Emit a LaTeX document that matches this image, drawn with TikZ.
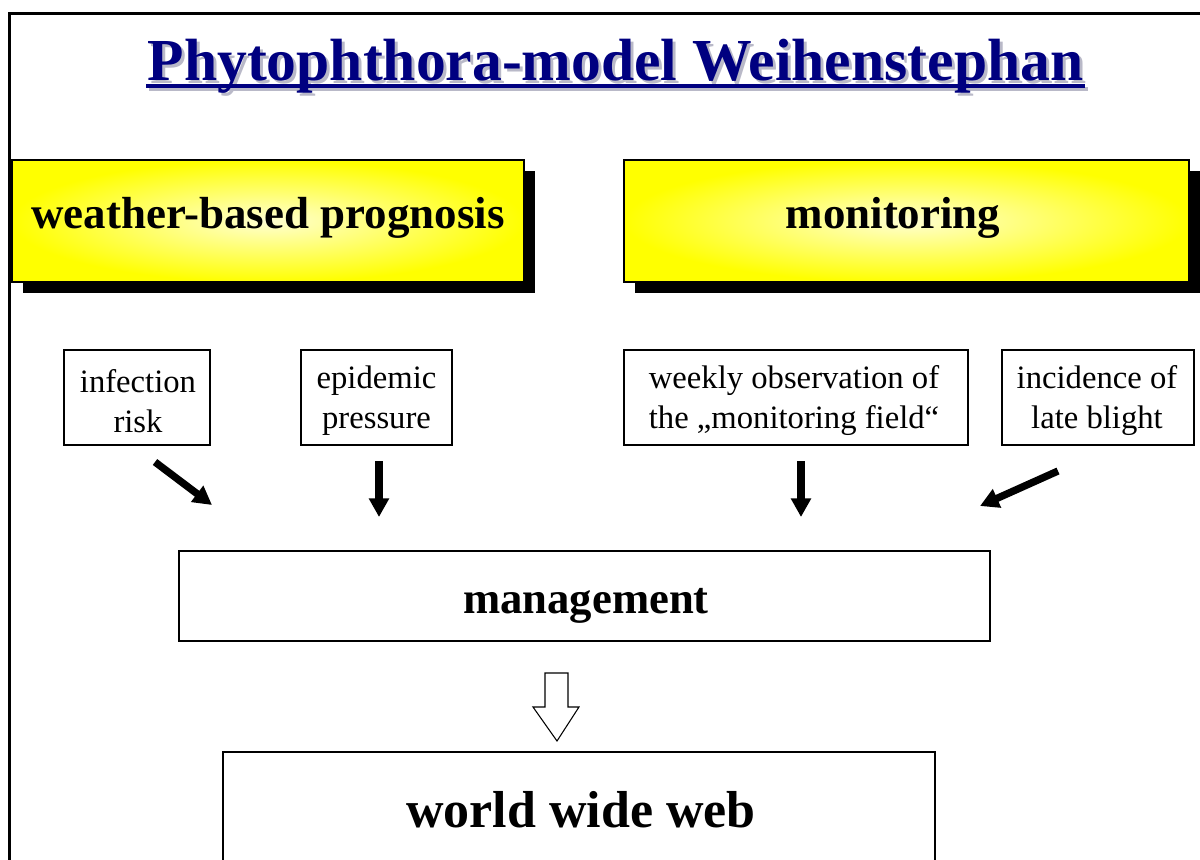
\documentclass[tikz,border=0pt]{standalone}
\usepackage{fontspec}
\setmainfont{Liberation Serif}
\usetikzlibrary{arrows.meta}
\definecolor{navy}{RGB}{0,0,128}
\definecolor{ttlshadow}{RGB}{185,185,200}
\definecolor{ylw}{RGB}{255,255,0}
\definecolor{ylwlight}{RGB}{255,255,210}
\begin{document}
\begin{tikzpicture}[x=0.75pt,y=-0.75pt,
  ybox/.style={draw=black, line width=0.8pt, shading=radial, inner color=ylwlight, outer color=ylw, minimum height=91.5pt, inner sep=0pt},
  yshadow/.style={fill=black, draw=none, minimum height=91.5pt, inner sep=0pt},
  ytext/.style={anchor=base, inner sep=0pt, font=\fontsize{33.7}{40}\selectfont\bfseries},
  sbox/.style={draw, line width=1pt, minimum height=71.25pt, inner sep=0pt},
  stext/.style={inner sep=0pt, align=center, font=\fontsize{24.5}{30}\selectfont},
  wbox/.style={draw, line width=1pt, inner sep=0pt},
  bigarrow/.style={line width=5.5pt, -{Triangle[length=14pt,width=14.5pt]}},
  ttl/.style={anchor=base, inner sep=0pt, font=\fontsize{44.7}{50}\selectfont\bfseries}
]
\useasboundingbox (0,0) rectangle (1200,860);
\clip (0,0) rectangle (1200,860);
\fill[white] (0,0) rectangle (1200,860);

% outer frame
\draw[line width=2.5pt] (9.5,900) -- (9.5,13.5) -- (1230,13.5);

% title with shadow
\node[ttl, text=ttlshadow] (ttlsh) at (618.5,83) {Phytophthora-model Weihenstephan};
\fill[ttlshadow] (149,87) rectangle (1088,91);
\node[ttl, text=navy] (title) at (615.5,80) {Phytophthora-model Weihenstephan};
\fill[navy] (146,84) rectangle (1085,88);

% yellow boxes
\node[yshadow, minimum width=384pt] (wshadow) at (279,232) {};
\node[ybox, minimum width=384pt] (weatherbox) at (268,221) {};
\node[ytext] (weather) at (268,228) {weather-based prognosis};
\node[yshadow, minimum width=423.75pt] (mshadow) at (917.5,232) {};
\node[ybox, minimum width=423.75pt] (monbox) at (906.5,221) {};
\node[ytext] (monitoring) at (893,228) {monitoring};

% small boxes
\node[sbox, minimum width=109.5pt] (infection) at (137,397.5) {};
\node[stext] (infectiontx) at (138,401) {infection\\ risk};
\node[sbox, minimum width=113.25pt] (epidemic) at (376.5,397.5) {};
\node[stext] (epidemictx) at (376.5,401) {epidemic\\pressure};
\node[sbox, minimum width=258pt] (weekly) at (796,397.5) {};
\node[stext] (weeklytx) at (794,401) {weekly observation of\\the „monitoring field“};
\node[sbox, minimum width=144pt] (incidence) at (1098,397.5) {};
\node[stext] (incidencetx) at (1097,401) {incidence of\\late blight};

% arrow end points
\coordinate (a1s) at (155,462);
\coordinate (a1e) at (212,505);
\coordinate (a2s) at (379,461);
\coordinate (a2e) at (379,517);
\coordinate (a3s) at (801,461);
\coordinate (a3e) at (801,517);
\coordinate (a4s) at (1058,471);
\coordinate (a4e) at (980,506);
\draw[bigarrow] (a1s) -- (a1e);
\draw[bigarrow] (a2s) -- (a2e);
\draw[bigarrow] (a3s) -- (a3e);
\draw[bigarrow] (a4s) -- (a4e);

% management
\node[wbox, minimum width=608.25pt, minimum height=67.5pt] (mgmtbox) at (584.5,596) {};
\node[anchor=base, inner sep=0pt, font=\fontsize{33.5}{40}\selectfont\bfseries] (mgmt) at (586,613) {management};

% hollow arrow
\draw[line width=0.8pt, fill=white] (545,673) -- (568,673) -- (568,707) -- (579,707) -- (557,741) -- (533,707) -- (545,707) -- cycle;

% world wide web
\node[wbox, minimum width=534pt, minimum height=117pt] (wwwbox) at (579,830) {};
\node[anchor=base, inner sep=0pt, font=\fontsize{39}{46}\selectfont\bfseries] (www) at (581,827) {world wide web};
\end{tikzpicture}
\end{document}
